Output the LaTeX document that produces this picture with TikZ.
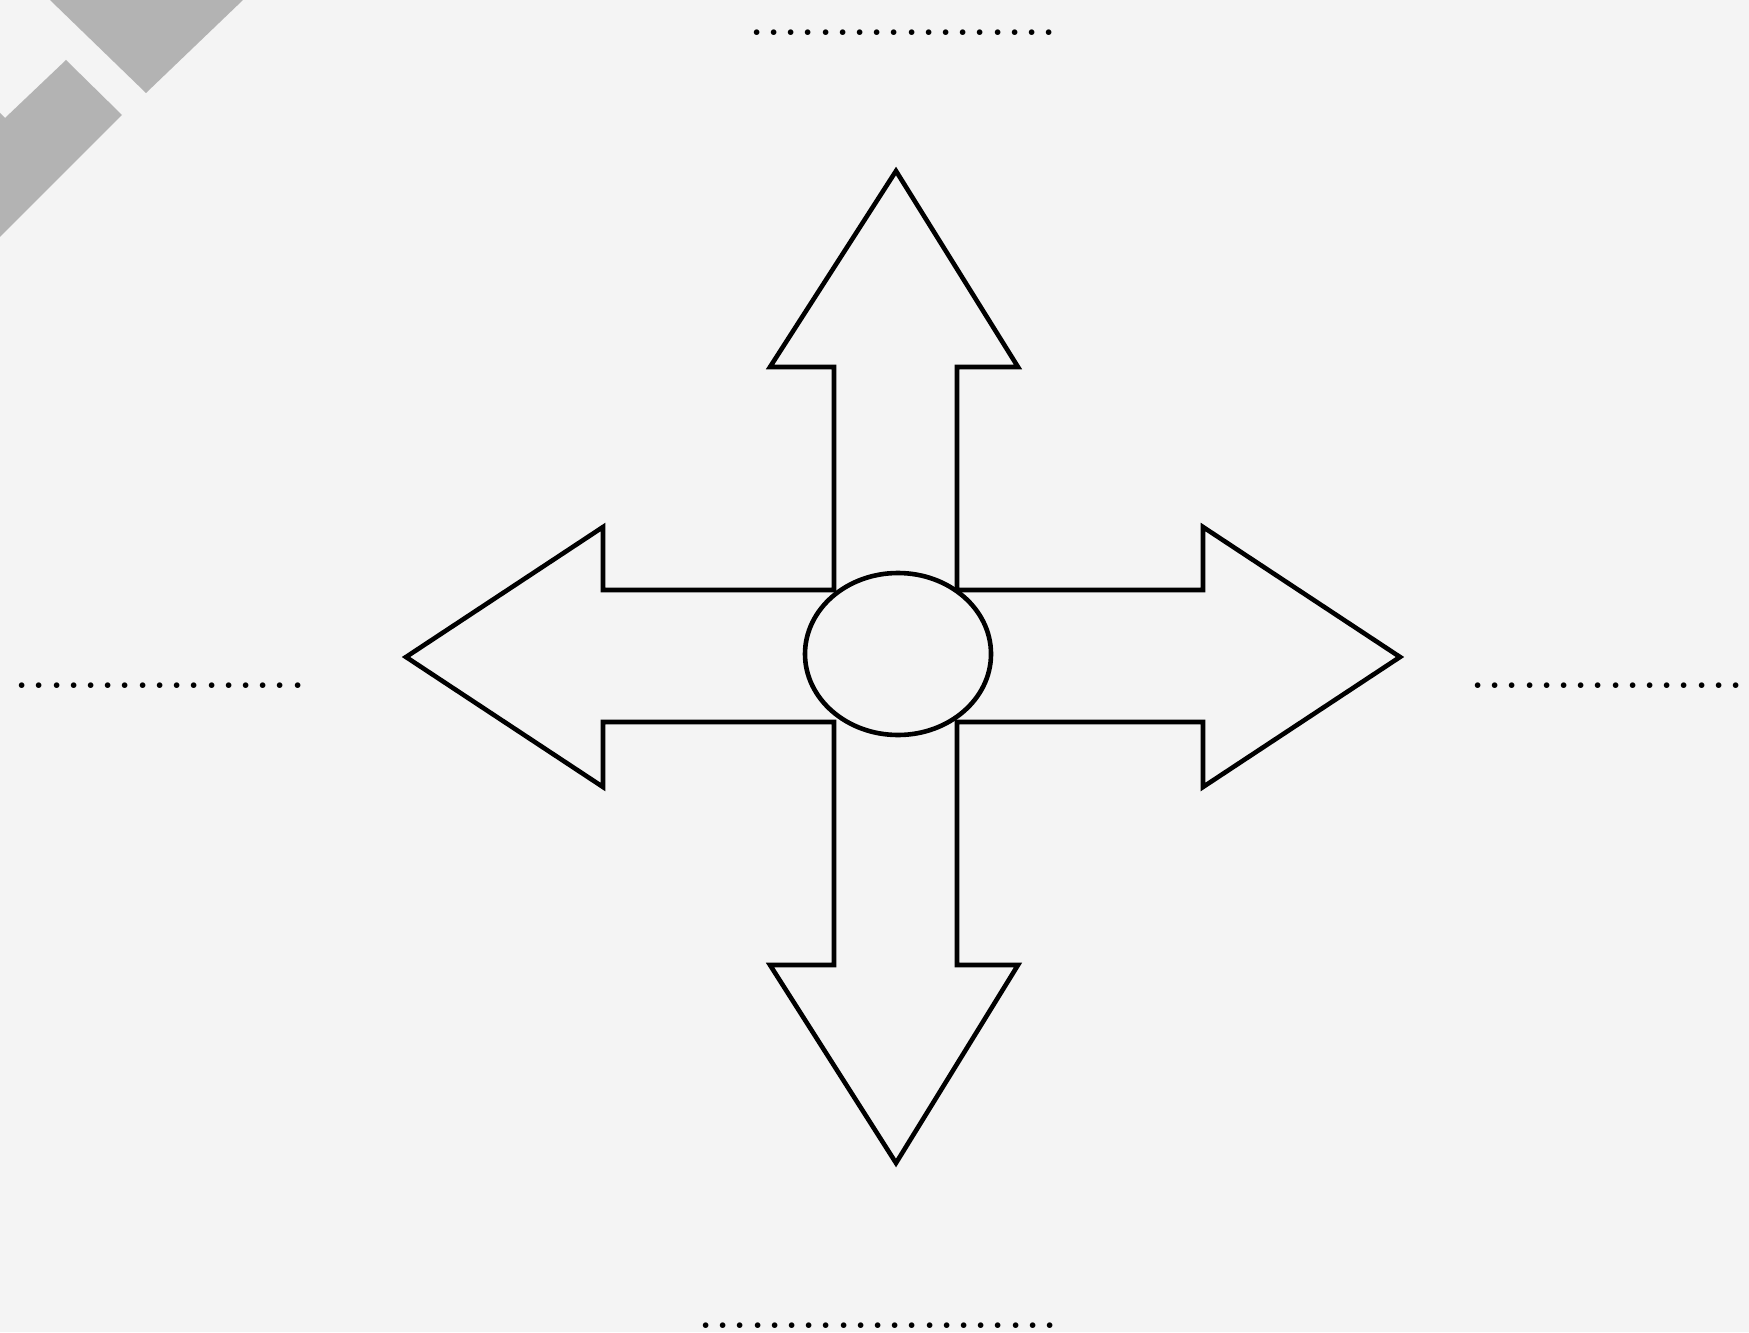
\documentclass[tikz,border=0pt]{standalone}
\usetikzlibrary{shapes.geometric}
\definecolor{bgpaper}{HTML}{F4F4F4}
\definecolor{wmgray}{HTML}{B3B3B3}
\tikzset{
    outline/.style={line width=2.3pt, line join=miter},
    fillin/.style={inner sep=0pt, anchor=base, text height=2pt, text depth=0pt,
        font=\fontsize{34.4}{34.4}\selectfont},
}
\begin{document}
\begin{tikzpicture}[x=0.5pt,y=-0.5pt]
    \fill[bgpaper] (0,0) rectangle (1749,1332);
    \useasboundingbox (0,0) rectangle (1749,1332);
    % watermark in the corner
    \fill[wmgray] (50,0) -- (146,93) -- (243,0) -- cycle;
    \fill[wmgray] (0,113) -- (5,118) -- (66,60) -- (122,115) -- (0,237) -- cycle;
    % four arrows round the hub
    \draw[outline] (896,171) -- (1018,367) -- (957,367) -- (957,590) -- (1203,590) -- (1203,527)
        -- (1400,657) -- (1203,787) -- (1203,722) -- (957,722) -- (957,965) -- (1018,965)
        -- (896,1163) -- (770,965) -- (834,965) -- (834,722) -- (603,722) -- (603,787)
        -- (406,657) -- (603,527) -- (603,590) -- (834,590) -- (834,367) -- (770,367) -- cycle;
    \node[outline, draw, fill=bgpaper, ellipse, minimum width=93pt, minimum height=81pt, inner sep=0pt] (hub) at (898,654) {};
    % blanks to fill in
    \node[fillin] (up) at (903,36) {..................};
    \node[fillin] (left) at (160,688) {.................};
    \node[fillin, anchor=base west] (right) at (1469,688) {..................};
    \node[fillin] (down) at (878,1328) {.....................};
\end{tikzpicture}
\end{document}
